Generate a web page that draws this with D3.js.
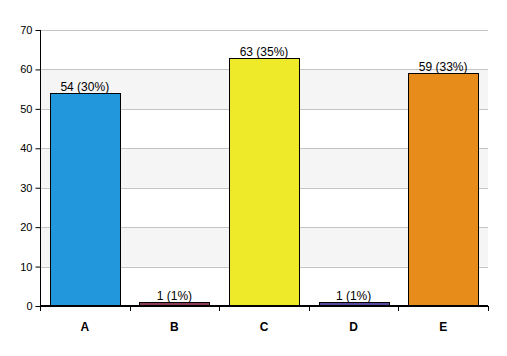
<!DOCTYPE html>
<html><head><meta charset="utf-8">
<script src="https://cdn.jsdelivr.net/npm/d3@7"></script>
<style>body{margin:0;background:#fff}svg{display:block}</style>
</head><body>
<svg id="c" width="507" height="356"></svg>
<script>
const categories = ["A","B","C","D","E"];
const values = [54, 1, 63, 1, 59];
const labels = ["54 (30%)","1 (1%)","63 (35%)","1 (1%)","59 (33%)"];
const colors = ["#2397dc","#8c3c55","#eeea29","#5a48a0","#e78b1a"];
const yTicks = [0,10,20,30,40,50,60,70];

const svg = d3.select("#c");
const L = 40, R = 488, T = 30, B = 306;
const x = d3.scaleBand().domain(categories).range([L, R]).paddingInner(0.22).paddingOuter(0.11);
const xb = d3.scaleBand().domain(categories).range([L, R]);
const y = d3.scaleLinear().domain([0, 70]).range([B, T]);

// stripes
for (let i = 0; i < yTicks.length - 1; i++) {
  if (i % 2 === 1) {
    svg.append("rect").attr("x", L).attr("width", R - L)
      .attr("y", y(yTicks[i+1])).attr("height", y(yTicks[i]) - y(yTicks[i+1]))
      .attr("fill", "#f5f5f5");
  }
}
// grid
svg.append("g").selectAll("line").data(yTicks.slice(1)).join("line")
  .attr("x1", L).attr("x2", R).attr("y1", d => Math.round(y(d)) + 0.5).attr("y2", d => Math.round(y(d)) + 0.5)
  .attr("stroke", "#c4c4c4").attr("stroke-width", 1);

// bars
svg.append("g").selectAll("rect").data(values).join("rect")
  .attr("x", (d, i) => Math.round(x(categories[i])) + 0.5)
  .attr("width", Math.round(x.bandwidth()))
  .attr("y", d => Math.round(y(d)) + 0.5)
  .attr("height", d => Math.round(y(0)) - Math.round(y(d)))
  .attr("fill", (d, i) => colors[i]).attr("stroke", "#000").attr("stroke-width", 1);

// value labels
svg.append("g").selectAll("text").data(values).join("text")
  .attr("x", (d, i) => x(categories[i]) + x.bandwidth() / 2)
  .attr("y", d => y(d) - 2)
  .attr("text-anchor", "middle")
  .attr("font-family", "Liberation Sans, Arial, sans-serif").attr("font-size", 12)
  .attr("fill", "#000")
  .text((d, i) => labels[i]);

// y axis
const ya = svg.append("g").attr("transform", `translate(${L + 0.5},0)`)
  .call(d3.axisLeft(y).tickValues(yTicks).tickSize(5).tickPadding(3));
ya.select(".domain").attr("stroke", "#000").attr("d", `M0,${T}V${B}`);
ya.selectAll("text").attr("font-family", "Liberation Sans, Arial, sans-serif").attr("font-size", 11).attr("fill", "#000");
ya.selectAll("line").attr("stroke", "#000");

// x axis
const xa = svg.append("g").attr("transform", `translate(0,${B})`);
xa.append("line").attr("x1", L).attr("x2", R).attr("y1", 0).attr("y2", 0).attr("stroke", "#000").attr("stroke-width", 2);
const bounds = categories.map(c => xb(c)).concat([R]);
xa.selectAll("line.t").data(bounds).join("line").attr("class", "t")
  .attr("x1", d => Math.round(d) + 0.5).attr("x2", d => Math.round(d) + 0.5)
  .attr("y1", 0).attr("y2", 5).attr("stroke", "#000");
xa.selectAll("text").data(categories).join("text")
  .attr("x", d => xb(d) + xb.bandwidth() / 2).attr("y", 25)
  .attr("text-anchor", "middle")
  .attr("font-family", "Liberation Sans, Arial, sans-serif").attr("font-size", 12).attr("font-weight", "bold")
  .text(d => d);
</script>
</body></html>
